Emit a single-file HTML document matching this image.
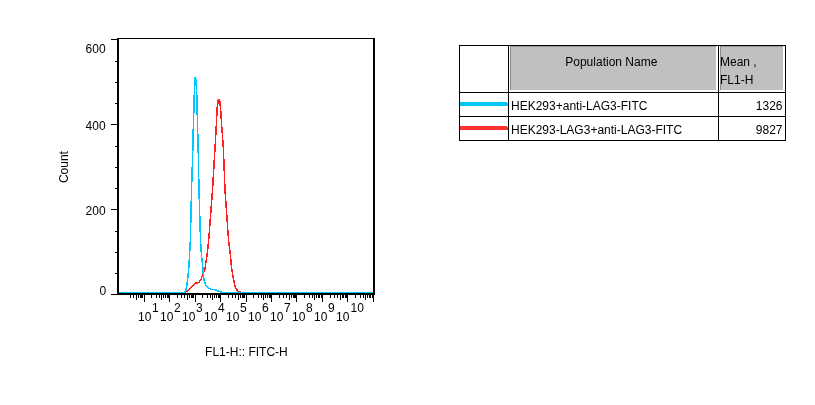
<!DOCTYPE html>
<html><head><meta charset="utf-8"><title>FL1-H histogram</title>
<style>html,body{margin:0;padding:0;background:#fff;}body{width:815px;height:405px;overflow:hidden;}svg{display:block;}text{font-family:"Liberation Sans",Arial,Helvetica,sans-serif;font-size:12px;fill:#000;}</style>
</head><body>
<svg width="815" height="405" viewBox="0 0 815 405">
<rect width="815" height="405" fill="#fff"/>
<polyline points="185.3,292.4 187.7,290.6 191.5,286.8 193.7,284.9 195.6,283 197.2,283.5 199.3,281.9 201,279.4 201.9,276.9 202.6,274.6 204.7,270.4 205.5,265 207.5,252 208.7,240 212.5,190 215.2,145 216.3,125 217.2,108 217.6,103 218.4,99.4 219.4,99.4 220.3,103 220.6,108 221.6,125 223.2,145 225,190 228.5,240 230.4,255 231.3,265 232.2,272 233.7,280 234.7,285 236.2,289 238.1,291.5 240.5,292.2" fill="none" stroke="#ff2020" stroke-width="1.5" stroke-linejoin="round" shape-rendering="crispEdges"/>
<rect x="218" y="99" width="2" height="5" fill="#ff2020" shape-rendering="crispEdges"/><rect x="219" y="104" width="1" height="2" fill="#ff2020" shape-rendering="crispEdges"/>
<polyline points="119,292.5 184,292.5 186,290 187,284.8 187.9,277 189,265 190.4,240 191.5,190 192.2,170 193.1,140 193.3,126 193.9,110 194.1,96 194.4,94 194.6,77.4 195.4,77.4 195.6,79 196.4,79.5 196.5,94 197,96 197.2,110 197.5,132 198,136 198.1,145 199,190 200.5,240 201.7,258 202.6,265 203.1,273 204,280 205.6,285 208.3,288 211.5,289.6 215,289.6 218.2,291 222,292.5 373,292.5" fill="none" stroke="#00c8ff" stroke-width="1.5" stroke-linejoin="round" shape-rendering="crispEdges"/>
<rect x="195" y="77" width="1" height="9" fill="#00c8ff" shape-rendering="crispEdges"/>
<g fill="#000" shape-rendering="crispEdges">
<rect x="117" y="38" width="2" height="257"/>
<rect x="373" y="38" width="2" height="257"/>
<rect x="117" y="38" width="258" height="1"/>
<rect x="117" y="293" width="258" height="2"/>
<rect x="111" y="39" width="6" height="1"/>
<rect x="115" y="61" width="2" height="1"/>
<rect x="115" y="82" width="2" height="1"/>
<rect x="115" y="103" width="2" height="1"/>
<rect x="111" y="124" width="6" height="1"/>
<rect x="115" y="146" width="2" height="1"/>
<rect x="115" y="167" width="2" height="1"/>
<rect x="115" y="188" width="2" height="1"/>
<rect x="111" y="209" width="6" height="1"/>
<rect x="115" y="231" width="2" height="1"/>
<rect x="115" y="252" width="2" height="1"/>
<rect x="115" y="273" width="2" height="1"/>
<rect x="111" y="294" width="6" height="1"/>
<rect x="130" y="295" width="1" height="3"/>
<rect x="133" y="295" width="1" height="3"/>
<rect x="136" y="295" width="1" height="5"/>
<rect x="138" y="295" width="1" height="3"/>
<rect x="140" y="295" width="1" height="3"/>
<rect x="141" y="295" width="1" height="3"/>
<rect x="142" y="295" width="1" height="3"/>
<rect x="144" y="295" width="1" height="7"/>
<rect x="151" y="295" width="1" height="3"/>
<rect x="156" y="295" width="1" height="3"/>
<rect x="159" y="295" width="1" height="3"/>
<rect x="161" y="295" width="1" height="5"/>
<rect x="163" y="295" width="1" height="3"/>
<rect x="165" y="295" width="1" height="3"/>
<rect x="167" y="295" width="1" height="3"/>
<rect x="168" y="295" width="1" height="3"/>
<rect x="169" y="295" width="1" height="7"/>
<rect x="177" y="295" width="1" height="3"/>
<rect x="181" y="295" width="1" height="3"/>
<rect x="184" y="295" width="1" height="3"/>
<rect x="187" y="295" width="1" height="5"/>
<rect x="189" y="295" width="1" height="3"/>
<rect x="191" y="295" width="1" height="3"/>
<rect x="192" y="295" width="1" height="3"/>
<rect x="193" y="295" width="1" height="3"/>
<rect x="195" y="295" width="1" height="7"/>
<rect x="202" y="295" width="1" height="3"/>
<rect x="207" y="295" width="1" height="3"/>
<rect x="210" y="295" width="1" height="3"/>
<rect x="212" y="295" width="1" height="5"/>
<rect x="214" y="295" width="1" height="3"/>
<rect x="216" y="295" width="1" height="3"/>
<rect x="218" y="295" width="1" height="3"/>
<rect x="219" y="295" width="1" height="3"/>
<rect x="220" y="295" width="1" height="7"/>
<rect x="228" y="295" width="1" height="3"/>
<rect x="232" y="295" width="1" height="3"/>
<rect x="235" y="295" width="1" height="3"/>
<rect x="238" y="295" width="1" height="5"/>
<rect x="240" y="295" width="1" height="3"/>
<rect x="242" y="295" width="1" height="3"/>
<rect x="243" y="295" width="1" height="3"/>
<rect x="244" y="295" width="1" height="3"/>
<rect x="246" y="295" width="1" height="7"/>
<rect x="253" y="295" width="1" height="3"/>
<rect x="258" y="295" width="1" height="3"/>
<rect x="261" y="295" width="1" height="3"/>
<rect x="263" y="295" width="1" height="5"/>
<rect x="265" y="295" width="1" height="3"/>
<rect x="267" y="295" width="1" height="3"/>
<rect x="269" y="295" width="1" height="3"/>
<rect x="270" y="295" width="1" height="3"/>
<rect x="271" y="295" width="1" height="7"/>
<rect x="279" y="295" width="1" height="3"/>
<rect x="283" y="295" width="1" height="3"/>
<rect x="286" y="295" width="1" height="3"/>
<rect x="289" y="295" width="1" height="5"/>
<rect x="291" y="295" width="1" height="3"/>
<rect x="293" y="295" width="1" height="3"/>
<rect x="294" y="295" width="1" height="3"/>
<rect x="295" y="295" width="1" height="3"/>
<rect x="296" y="295" width="1" height="7"/>
<rect x="304" y="295" width="1" height="3"/>
<rect x="309" y="295" width="1" height="3"/>
<rect x="312" y="295" width="1" height="3"/>
<rect x="314" y="295" width="1" height="5"/>
<rect x="316" y="295" width="1" height="3"/>
<rect x="318" y="295" width="1" height="3"/>
<rect x="319" y="295" width="1" height="3"/>
<rect x="321" y="295" width="1" height="3"/>
<rect x="322" y="295" width="1" height="7"/>
<rect x="330" y="295" width="1" height="3"/>
<rect x="334" y="295" width="1" height="3"/>
<rect x="337" y="295" width="1" height="3"/>
<rect x="340" y="295" width="1" height="5"/>
<rect x="342" y="295" width="1" height="3"/>
<rect x="343" y="295" width="1" height="3"/>
<rect x="345" y="295" width="1" height="3"/>
<rect x="346" y="295" width="1" height="3"/>
<rect x="347" y="295" width="1" height="7"/>
<rect x="355" y="295" width="1" height="3"/>
<rect x="360" y="295" width="1" height="3"/>
<rect x="363" y="295" width="1" height="3"/>
<rect x="365" y="295" width="1" height="5"/>
<rect x="367" y="295" width="1" height="3"/>
<rect x="369" y="295" width="1" height="3"/>
<rect x="370" y="295" width="1" height="3"/>
<rect x="372" y="295" width="1" height="3"/>
<rect x="373" y="295" width="1" height="7"/>
</g>
<g text-anchor="end">
<text x="105.6" y="53">600</text>
<text x="105.6" y="130">400</text>
<text x="105.6" y="215">200</text>
<text x="106.3" y="295">0</text>
</g>
<text x="138" y="321">10</text><text x="151.9" y="312">1</text>
<text x="160" y="321">10</text><text x="173.9" y="312">2</text>
<text x="182" y="321">10</text><text x="195.9" y="312">3</text>
<text x="204" y="321">10</text><text x="217.9" y="312">4</text>
<text x="226" y="321">10</text><text x="239.9" y="312">5</text>
<text x="248" y="321">10</text><text x="261.9" y="312">6</text>
<text x="270" y="321">10</text><text x="283.9" y="312">7</text>
<text x="292" y="321">10</text><text x="305.9" y="312">8</text>
<text x="314" y="321">10</text><text x="327.9" y="312">9</text>
<text x="336" y="321">10</text><text x="350.5" y="312">10</text>
<text x="246.4" y="356" text-anchor="middle">FL1-H:: FITC-H</text>
<text transform="translate(68,167.1) rotate(-90)" text-anchor="middle">Count</text>
<g shape-rendering="crispEdges">
<rect x="510" y="46" width="206" height="44" fill="#c0c0c0"/>
<rect x="720" y="46" width="63" height="44" fill="#c0c0c0"/>
<rect x="510" y="46" width="206" height="1" fill="#9a9a9a"/>
<rect x="720" y="46" width="63" height="1" fill="#9a9a9a"/>
<rect x="510" y="46" width="1" height="44" fill="#8c8c8c"/>
<rect x="720" y="46" width="1" height="44" fill="#8c8c8c"/>
<g fill="#000">
<rect x="459" y="45" width="327" height="1"/>
<rect x="459" y="92" width="327" height="1"/>
<rect x="459" y="116" width="327" height="1"/>
<rect x="459" y="140" width="327" height="1"/>
<rect x="459" y="45" width="1" height="96"/>
<rect x="508" y="45" width="1" height="96"/>
<rect x="718" y="45" width="1" height="96"/>
<rect x="785" y="45" width="1" height="96"/>
</g>
<rect x="460" y="102" width="48" height="4" fill="#00c8ff"/>
<rect x="460" y="126" width="48" height="4" fill="#ff3030"/>
<rect x="507" y="102" width="1" height="1" fill="#fff"/><rect x="507" y="126" width="1" height="1" fill="#fff"/>
</g>
<text x="611.3" y="66" text-anchor="middle">Population Name</text>
<text x="720" y="66">Mean ,</text>
<text x="720" y="84">FL1-H</text>
<text x="511" y="110">HEK293+anti-LAG3-FITC</text>
<text x="511" y="134">HEK293-LAG3+anti-LAG3-FITC</text>
<text x="782.5" y="110" text-anchor="end">1326</text>
<text x="782.5" y="134" text-anchor="end">9827</text>
</svg>
</body></html>
